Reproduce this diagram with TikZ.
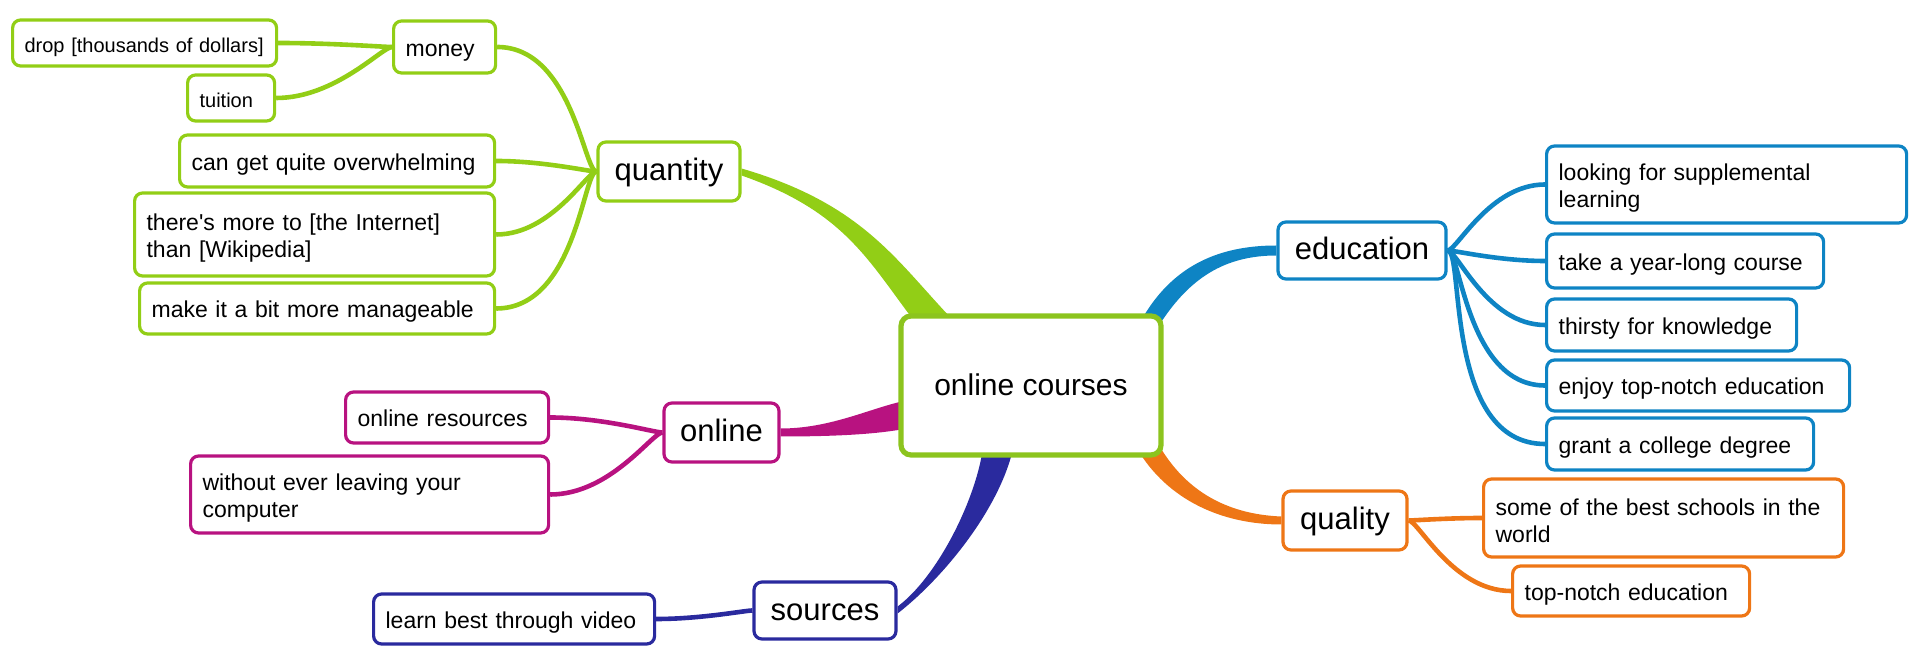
\documentclass[tikz,border=0pt]{standalone}
\usepackage{fontspec}
\setmainfont{Liberation Sans}
\usetikzlibrary{calc,backgrounds}

\definecolor{qtygreen}{RGB}{146,206,22}
\definecolor{hubgreen}{RGB}{140,196,30}
\definecolor{educblue}{RGB}{14,132,196}
\definecolor{onlpink}{RGB}{184,18,128}
\definecolor{srcblue}{RGB}{42,42,158}
\definecolor{qualorange}{RGB}{238,118,22}

\tikzset{
  hub/.style={draw=hubgreen, line width=2.6pt, rounded corners=5pt, fill=white,
    font=\fontsize{15}{18}\selectfont, text height=1.2em, text depth=0.2em,
    minimum width=130pt, minimum height=69.5pt},
  topic/.style={draw=#1, line width=1.6pt, rounded corners=4pt, fill=white,
    font=\fontsize{15.5}{18}\selectfont, text height=1.15em, text depth=0.2em, inner sep=2pt},
  leaf/.style={draw=#1, line width=1.6pt, rounded corners=4pt, fill=white,
    font=\fontsize{11.5}{13.5}\selectfont, text height=1.15em, text depth=0.2em,
    align=left, anchor=west, inner xsep=6pt},
  tall/.style={text depth={}},
  twig/.style={draw=#1, line width=2.3pt},
}

\begin{document}
\begin{tikzpicture}[x=0.5pt,y=-0.5pt]
\useasboundingbox (0,0) rectangle (1920,672);
% stred mapy
\node[hub] (hub) at (1031,385.5) {online courses};
% hlavni vetve
\node[topic=qtygreen, minimum width=71pt, minimum height=29.5pt] (quantity) at (669,171.5) {quantity};
\node[topic=onlpink, minimum width=57.5pt, minimum height=29.5pt] (online) at (721.5,432.5) {online};
\node[topic=srcblue, minimum width=71pt, minimum height=28.5pt] (sources) at (825,610.5) {sources};
\node[topic=educblue, minimum width=84pt, minimum height=28.5pt] (education) at (1362,250.5) {education};
\node[topic=qualorange, minimum width=62pt, minimum height=29.5pt] (quality) at (1345,520.5) {quality};
% listy: jmeno/x/y/sirka textu/vyska/text
\foreach \n/\x/\y/\w/\h/\t in {money/392/47/39/26/money,
    canget/178/161/145.5/26/can get quite overwhelming,
    manage/138/308.5/165.5/25.5/make it a bit more manageable}
  \node[leaf=qtygreen, text width=\w pt, minimum height=\h pt] (\n) at (\x,\y) {\t};
\node[leaf=qtygreen, tall, text width=168pt, minimum height=41.5pt] (morethan) at (133,234.5)
  {there\textquotesingle s more to [the Internet]\\than [Wikipedia]};
\foreach \n/\x/\y/\w/\t in {drop/11/43/120/drop [thousands of dollars], tuition/186/98/31.5/tuition}
  \node[leaf=qtygreen, font=\fontsize{10}{12}\selectfont, text width=\w pt, minimum height=23pt] (\n) at (\x,\y) {\t};
\node[leaf=onlpink, text width=89.5pt, minimum height=25.5pt] (resources) at (344,417.5) {online resources};
\node[leaf=onlpink, tall, text width=167pt, minimum height=38.5pt] (leaving) at (189,494.5)
  {without ever leaving your\\computer};
\node[leaf=srcblue, text width=128.5pt, minimum height=25pt] (video) at (372,619) {learn best through video};
\node[leaf=educblue, tall, text width=168pt, minimum height=38.5pt] (looking) at (1545,184.5)
  {looking for supplemental\\learning};
\foreach \n/\x/\y/\w/\h/\t in {yearlong/1545/261/126.5/27/take a year-long course,
    thirsty/1545/325/113/26/thirsty for knowledge,
    enjoy/1545/385.5/139.5/25.5/enjoy top-notch education,
    degree/1545/444/121.5/26/grant a college degree}
  \node[leaf=educblue, text width=\w pt, minimum height=\h pt] (\n) at (\x,\y) {\t};
\node[leaf=qualorange, tall, text width=168pt, minimum height=39pt] (schools) at (1482,518)
  {some of the best schools in the\\world};
\node[leaf=qualorange, text width=106.5pt, minimum height=25pt] (topnotch) at (1511,591) {top-notch education};

\begin{scope}[on background layer]
% siroke vetve ze stredu
\fill[qtygreen] ($(quantity.east)+(0,-3)$) .. controls +(120,35) and +(-55,-58) .. ($(hub.north west)+(52,4)$)
  -- ($(hub.north west)+(13,4)$) .. controls +(-45,-60) and +(100,35) .. ($(quantity.east)+(0,4)$) -- cycle;
\fill[onlpink] ($(online.east)+(0,-4)$) .. controls +(51,0) and +(-35,7) .. ($(hub.west)+(8,15)$)
  -- ($(hub.west)+(8,43)$) .. controls +(-30,6) and +(51,0) .. ($(online.east)+(0,4)$) -- cycle;
\fill[srcblue] ($(sources.east)+(0,-4)$) .. controls +(40,-30) and +(-8,50) .. ($(hub.south west)+(84,-6)$)
  -- ($(hub.south west)+(114,-6)$) .. controls +(-15,60) and +(45,-35) .. ($(sources.east)+(0,3)$) -- cycle;
\fill[educblue] ($(education.west)+(0,-5)$) .. controls +(-60,0) and +(30,-54) .. ($(hub.north east)+(-23,8)$)
  -- ($(hub.north east)+(-2,8)$) .. controls +(28,-42) and +(-53,0) .. ($(education.west)+(0,5)$) -- cycle;
\fill[qualorange] ($(hub.south east)+(-2,-8)$) .. controls +(28,45) and +(-50,-2) .. ($(quality.west)+(0,-4)$)
  -- ($(quality.west)+(0,4)$) .. controls +(-60,0) and +(30,50) .. ($(hub.south east)+(-26,-8)$) -- cycle;
% tenke vetve k listum
\foreach \n in {money,canget,morethan,manage}
  \draw[twig=qtygreen] (\n.east) to[out=0,in=180,out looseness=1.2,in looseness=0.2] (quantity.west);
\foreach \n in {drop,tuition}
  \draw[twig=qtygreen] (\n.east) to[out=0,in=180,out looseness=1.2,in looseness=0.2] (money.west);
\foreach \n in {resources,leaving}
  \draw[twig=onlpink] (\n.east) to[out=0,in=180,out looseness=1.2,in looseness=0.2] (online.west);
\draw[twig=srcblue] (video.east) to[out=0,in=180,out looseness=1.2,in looseness=0.2] (sources.west);
\foreach \n in {looking,yearlong,thirsty,enjoy,degree}
  \draw[twig=educblue] (education.east) to[out=0,in=180,out looseness=0.2,in looseness=1.2] (\n.west);
\foreach \n in {schools,topnotch}
  \draw[twig=qualorange] (quality.east) to[out=0,in=180,out looseness=0.2,in looseness=1.2] (\n.west);
\end{scope}
\end{tikzpicture}
\end{document}
